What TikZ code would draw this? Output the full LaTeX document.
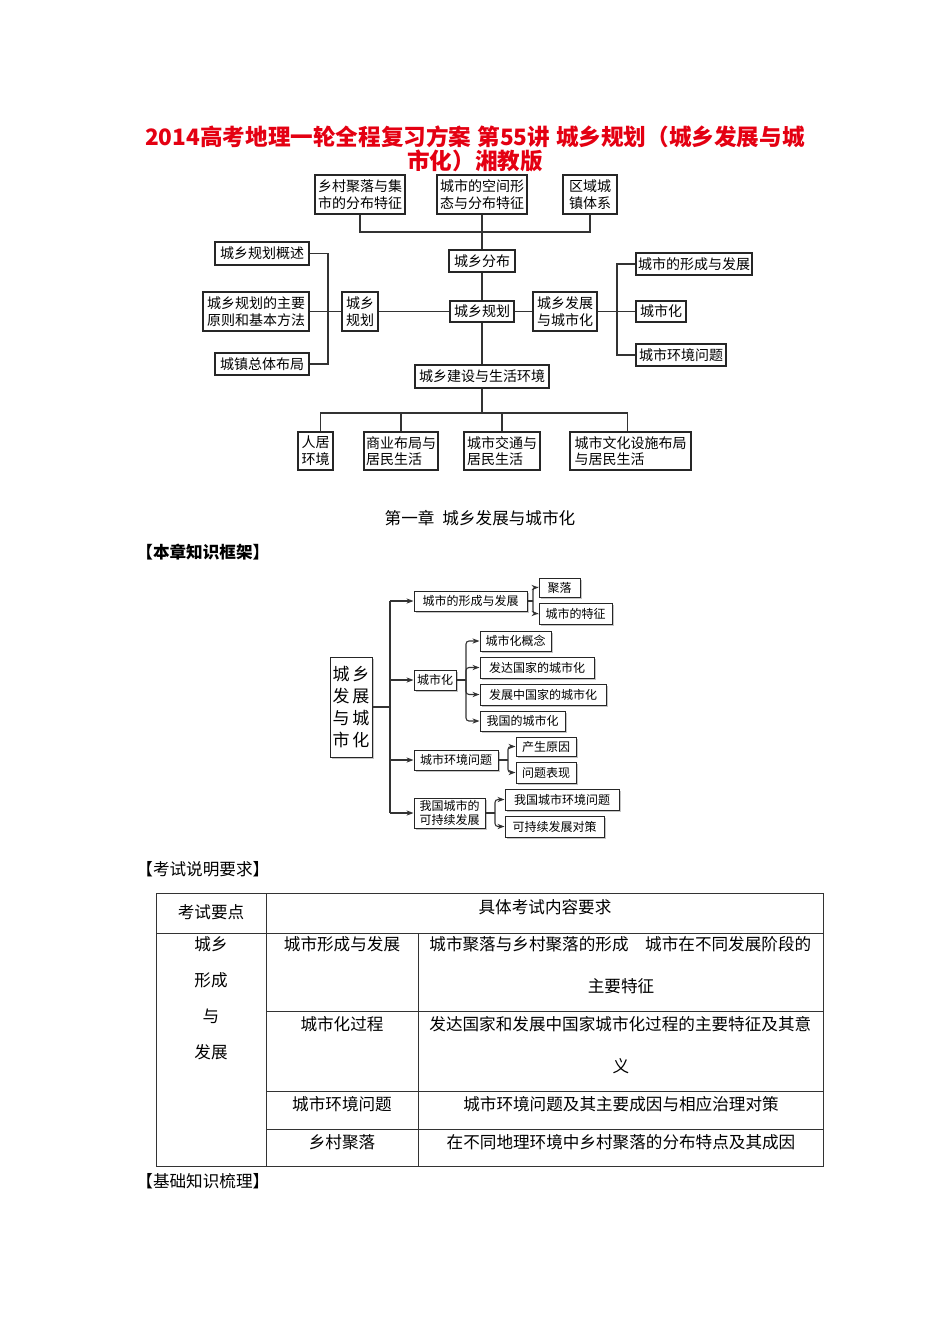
\documentclass[tikz,border=0pt]{standalone}
\usepackage{fontspec}
\setmainfont{Noto Sans CJK SC}
\usetikzlibrary{arrows.meta,shadows}
\definecolor{titlered}{RGB}{228,0,18}
\newcommand\bxn[7][bx]{\node[#1,minimum width={(#5-#3)*0.5pt},minimum height={(#6-#4)*0.5pt}] (#2) at ({(#3+#5)/2},{(#4+#6)/2}) {#7};}
\tikzset{
  bx/.style={draw=black!85, line width=0.6pt, inner sep=0pt, align=left, font=\fontsize{7}{8.3}\selectfont},
  sb/.style={draw=black!85, fill=white, line width=0.5pt, inner sep=0pt, align=left, font=\fontsize{6}{7}\selectfont,
     drop shadow={shadow xshift=0.9pt,shadow yshift=-0.9pt,fill=black!45}},
  bigb/.style={sb, font=\fontsize{8.5}{11}\selectfont},
  ln/.style={line width=0.55pt, draw=black!80},
  arr/.style={ln, rounded corners=1.5pt, -{Stealth[length=3.5pt,width=2.6pt]}},
  tl/.style={line width=0.5pt, draw=black!80},
  tx/.style={inner sep=0pt, font=\fontsize{8.3}{10}\selectfont},
  hd/.style={inner sep=0pt, anchor=west, font=\fontsize{8.3}{10}\selectfont},
}
\begin{document}
\begin{tikzpicture}[x=0.5pt,y=-0.5pt]
\useasboundingbox (0,0) rectangle (950,1344);
% title
\node[inner sep=0pt, text=titlered, font=\fontsize{11.3}{12}\selectfont\bfseries] (t1) at (475,137) {2014高考地理一轮全程复习方案\hspace{3pt}第55讲\hspace{3pt}城乡规划（城乡发展与城};
\node[inner sep=0pt, text=titlered, font=\fontsize{11.3}{12}\selectfont\bfseries] (t2) at (475,161) {市化）湘教版};
% ---------- top diagram ----------
\bxn{A}{315}{175}{405}{214}{乡村聚落与集\\市的分布特征}
\bxn{B}{437}{175}{527}{214}{城市的空间形\\态与分布特征}
\bxn{C}{563}{175}{617}{214}{区域城\\镇体系}
\bxn{fb}{449}{250}{515}{272}{城乡分布}
\bxn{gh}{450}{301}{514}{322}{城乡规划}
\bxn{gs}{215}{242}{309}{265}{城乡规划概述}
\bxn{yz}{203}{292}{309}{331}{城乡规划的主要\\原则和基本方法}
\bxn{zt}{215}{353}{309}{375}{城镇总体布局}
\bxn{cg}{342}{292}{378}{331}{城乡\\规划}
\bxn{fz}{533}{292}{597}{331}{城乡发展\\与城市化}
\bxn{xc}{636}{253}{752}{275}{城市的形成与发展}
\bxn{ch}{636}{301}{686}{322}{城市化}
\bxn{hw}{636}{344}{726}{366}{城市环境问题}
\bxn{js}{415}{365}{549}{388}{城乡建设与生活环境}
\bxn{rj}{298}{432}{333}{470}{人居\\环境}
\bxn{sy}{364}{432}{438}{470}{商业布局与\\居民生活}
\bxn{jt}{464}{432}{540}{470}{城市交通与\\居民生活}
\bxn{wh}{570}{432}{691}{470}{城市文化设施布局\\与居民生活}
\coordinate (busT) at (482,232);
\coordinate (busB) at (482,413);
\coordinate (xL) at (328,0);
\coordinate (xR) at (617,0);
\draw[ln] (A.south) |- (busT) -| (C.south);
\draw[ln] (B.south) -- (busT) -- (fb.north);
\draw[ln] (fb.south) -- (gh.north);
\draw[ln] (gs.east) -| (zt.east -| xL) -- (zt.east);
\draw[ln] (yz.east) -- (cg.west);
\draw[ln] (cg.east) -- (cg.east -| gh.west);
\draw[ln] (gh.east) -- (gh.east -| fz.west);
\draw[ln] (xc.west) -| (hw.west -| xR) -- (hw.west);
\draw[ln] (fz.east) -- (fz.east -| ch.west);
\draw[ln] (gh.south) -- (js.north);
\draw[ln] (js.south) -- (busB);
\draw[ln] ([xshift=2.5pt]rj.north) |- (busB) -| ([xshift=-1.5pt]wh.north);
\draw[ln] (sy.north) -- (sy.north |- busB);
\draw[ln] (jt.north) -- (jt.north |- busB);
% ---------- headings ----------
\node[tx] (ch1) at (480,518) {第一章\hspace{4pt}城乡发展与城市化};
\node[hd, font=\fontsize{8.3}{10}\selectfont\bfseries] (h1) at (136,552) {【本章知识框架】};
% ---------- second diagram ----------
\bxn[bigb]{big}{330}{657}{372}{757}{城\hspace{1.5pt}乡\\发\hspace{1.5pt}展\\与\hspace{1.5pt}城\\市\hspace{1.5pt}化}
\bxn[sb]{xc2}{414}{591}{527}{611}{城市的形成与发展}
\bxn[sb]{jl}{539}{578}{580}{597}{聚落}
\bxn[sb]{tz}{539}{603}{612}{624}{城市的特征}
\bxn[sb]{csh}{414}{670}{456}{690}{城市化}
\bxn[sb]{gn}{480}{631}{551}{651}{城市化概念}
\bxn[sb]{fd}{480}{657}{594}{678}{发达国家的城市化}
\bxn[sb]{fzz}{480}{684}{606}{705}{发展中国家的城市化}
\bxn[sb]{wg}{480}{711}{565}{731}{我国的城市化}
\bxn[sb]{hj}{414}{750}{498}{770}{城市环境问题}
\bxn[sb]{yy}{516}{737}{576}{756}{产生原因}
\bxn[sb]{bxx}{516}{762}{576}{783}{问题表现}
\bxn[sb]{kc}{414}{798}{485}{828}{我国城市的\\可持续发展}
\bxn[sb]{wt}{505}{789}{619}{810}{我国城市环境问题}
\bxn[sb]{dc}{505}{816}{604}{837}{可持续发展对策}
\coordinate (T) at (390,0);
\coordinate (b1) at (533,0);
\coordinate (b2) at (466,0);
\coordinate (b3) at (508,0);
\coordinate (b4) at (495,0);
\draw[ln] (big.east) -- (big.east -| T);
\draw[ln] (xc2.west -| T) -- (kc.west -| T);
\draw[arr] (xc2.west -| T) -- (xc2.west);
\draw[arr] (csh.west -| T) -- (csh.west);
\draw[arr] (hj.west -| T) -- (hj.west);
\draw[arr] (kc.west -| T) -- (kc.west);
\draw[ln] (xc2.east) -- (xc2.east -| b1);
\draw[arr] (xc2.east -| b1) |- (jl.west);
\draw[arr] (xc2.east -| b1) |- (tz.west);
\draw[ln] (csh.east) -- (csh.east -| b2);
\draw[arr] (csh.east -| b2) |- (gn.west);
\draw[arr] (csh.east -| b2) |- (fd.west);
\draw[arr] (csh.east -| b2) |- (fzz.west);
\draw[arr] (csh.east -| b2) |- (wg.west);
\draw[ln] (hj.east) -- (hj.east -| b3);
\draw[arr] (hj.east -| b3) |- (yy.west);
\draw[arr] (hj.east -| b3) |- (bxx.west);
\draw[ln] (kc.east) -- (kc.east -| b4);
\draw[arr] (kc.east -| b4) |- (wt.west);
\draw[arr] (kc.east -| b4) |- (dc.west);
% ---------- table ----------
\node[hd] (h2) at (136,869) {【考试说明要求】};
\draw[tl] (156,893) rectangle (823,1166);
\draw[tl] (266,893) -- (266,1166);
\draw[tl] (156,933) -- (823,933);
\draw[tl] (418,933) -- (418,1166);
\draw[tl] (266,1011) -- (823,1011);
\draw[tl] (266,1091) -- (823,1091);
\draw[tl] (266,1129) -- (823,1129);
\node[tx] (c00) at (211,912) {考试要点};
\node[tx] (c01) at (545,907) {具体考试内容要求};
\node[tx] (k1) at (211,944) {城乡};
\node[tx] (k2) at (211,980) {形成};
\node[tx] (k3) at (211,1016) {与};
\node[tx] (k4) at (211,1052) {发展};
\node[tx] (r1a) at (342,944) {城市形成与发展};
\node[tx, anchor=west] (r1b) at (429,944) {城市聚落与乡村聚落的形成　城市在不同发展阶段的};
\node[tx] (r1c) at (621,986) {主要特征};
\node[tx] (r2a) at (342,1024) {城市化过程};
\node[tx, anchor=west] (r2b) at (429,1024) {发达国家和发展中国家城市化过程的主要特征及其意};
\node[tx] (r2c) at (621,1066) {义};
\node[tx] (r3a) at (342,1104) {城市环境问题};
\node[tx] (r3b) at (621,1104) {城市环境问题及其主要成因与相应治理对策};
\node[tx] (r4a) at (342,1142) {乡村聚落};
\node[tx] (r4b) at (621,1142) {在不同地理环境中乡村聚落的分布特点及其成因};
\node[hd] (h3) at (136,1181) {【基础知识梳理】};
\end{tikzpicture}
\end{document}
